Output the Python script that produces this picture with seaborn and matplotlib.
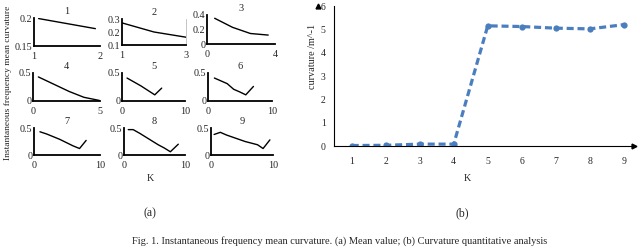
import matplotlib
matplotlib.use("Agg")
import matplotlib.pyplot as plt
import seaborn as sns
import pandas as pd

# (a) mean curvature of each mode, for K = 1..9 decompositions
sub_titles = ["1", "2", "3", "4", "5", "6", "7", "8", "9"]
sub_x = [
    [1.07, 1.93],
    [1.0, 2.0, 3.0],
    [0.45, 1.5, 2.55, 3.6],
    [0.4, 1.55, 2.7, 3.8, 4.95],
    [0.8, 1.9, 3.0, 4.1, 5.2, 6.3],
    [1.0, 2.0, 3.0, 4.0, 5.0, 5.9, 7.1],
    [0.9, 1.9, 2.9, 3.9, 4.9, 5.9, 6.9, 7.9],
    [0.7, 1.5, 2.6, 3.6, 4.6, 5.6, 6.6, 7.6, 8.9],
    [0.5, 1.5, 2.5, 3.5, 4.5, 5.5, 6.5, 7.5, 8.4, 9.5],
]
sub_y = [
    [0.199, 0.181],
    [0.27, 0.20, 0.16],
    [0.355, 0.23, 0.145, 0.123],
    [0.43, 0.30, 0.17, 0.066, 0.01],
    [0.41, 0.34, 0.27, 0.19, 0.11, 0.23],
    [0.41, 0.36, 0.31, 0.21, 0.16, 0.11, 0.26],
    [0.43, 0.39, 0.34, 0.29, 0.23, 0.17, 0.12, 0.27],
    [0.47, 0.47, 0.40, 0.33, 0.26, 0.19, 0.13, 0.06, 0.20],
    [0.38, 0.42, 0.37, 0.33, 0.29, 0.25, 0.22, 0.19, 0.12, 0.28],
]
sub_xlim = [(1, 2), (1, 3), (0, 4), (0, 5), (0, 10), (0, 10), (0, 10), (0, 10), (0, 10)]
sub_ylim = [(0.15, 0.2), (0.1, 0.3), (0, 0.4), (0, 0.5), (0, 0.5), (0, 0.5), (0, 0.5), (0, 0.5), (0, 0.5)]
sub_yticks = [[0.15, 0.2], [0.1, 0.2, 0.3], [0, 0.2, 0.4], [0, 0.5], [0, 0.5], [0, 0.5],
              [0, 0.5], [0, 0.5], [0, 0.5]]
sub_yticklabels = [["0.15", "0.2"], ["0.1", "0.2", "0.3"], ["0", "0.2", "0.4"]] + [["0", "0.5"]] * 6

# (b) curvature statistics
k_values = [1, 2, 3, 4, 5, 6, 7, 8, 9]
curvature = [0.02, 0.03, 0.08, 0.08, 5.15, 5.12, 5.05, 5.02, 5.2]

sns.set_style("white")
plt.rcParams['font.family'] = ['Liberation Serif', 'DejaVu Serif']

W, H = 640, 247
fig = plt.figure(figsize=(6.4, 2.47), dpi=100)


def box(l, t, r, b):
    return [l / W, 1 - b / H, (r - l) / W, (b - t) / H]


# pixel boxes (left, top, right, bottom) of the small panels
boxes = [
    (34, 18, 100, 46), (122, 19, 186, 45), (207, 15, 275, 44),
    (33, 73, 100, 101), (122, 73, 185, 101), (208, 73, 272, 101),
    (34, 128, 100, 155), (124, 128, 185, 155), (211, 128, 273, 155),
]

for i in range(9):
    ax = fig.add_axes(box(*boxes[i]))
    df = pd.DataFrame({"x": sub_x[i], "y": sub_y[i]})
    sns.lineplot(data=df, x="x", y="y", ax=ax, color="black", linewidth=1.0)
    ax.set_xlim(*sub_xlim[i])
    ax.set_ylim(*sub_ylim[i])
    ax.set_xticks(list(sub_xlim[i]))
    ax.set_xticklabels([str(v) for v in sub_xlim[i]])
    ax.set_yticks(sub_yticks[i])
    ax.set_yticklabels(sub_yticklabels[i])
    ax.set_xlabel("")
    ax.set_ylabel("")
    ax.set_title(sub_titles[i], fontsize=7.5, pad=3)
    for s in ["top", "right"]:
        ax.spines[s].set_visible(False)
    for s in ["left", "bottom"]:
        ax.spines[s].set_linewidth(1.3)
        ax.spines[s].set_color("black")
    if i == 1:
        ax.spines["right"].set_visible(True)
        ax.spines["right"].set_color("#bbbbbb")
        ax.spines["right"].set_linewidth(0.6)
    ax.tick_params(length=0, labelsize=7.3)
    ax.tick_params(axis="x", pad=4)
    ax.tick_params(axis="y", pad=1)

fig.text(8 / W, 1 - 83 / H, "Instantaneous frequency mean curvature", rotation=90,
         ha="center", va="center", fontsize=6.8)
fig.text(150 / W, 1 - 178 / H, "K", ha="center", va="center", fontsize=7.3)
fig.text(150 / W, 1 - 213 / H, "(a)", ha="center", va="center", fontsize=8.5)

# (b)
axb = fig.add_axes(box(334, 6, 634, 146))
dfb = pd.DataFrame({"K": k_values, "curvature": curvature})
sns.lineplot(data=dfb, x="K", y="curvature", ax=axb, color="#4a7ebf", linewidth=2.3,
             linestyle=(0, (2.2, 1.2)), marker="o", markersize=4.5, markeredgewidth=0)
axb.set_xlim(0.48, 9.3)
axb.set_ylim(0, 6)
axb.set_xticks(k_values)
axb.set_yticks(range(0, 7))
axb.tick_params(length=0, labelsize=7)
axb.tick_params(axis="x", pad=8)
axb.tick_params(axis="y", pad=6)
for s in ["top", "right"]:
    axb.spines[s].set_visible(False)
for s in ["left", "bottom"]:
    axb.spines[s].set_linewidth(0.8)
    axb.spines[s].set_color("black")
axb.plot(1, 0, ">k", transform=axb.get_yaxis_transform(), clip_on=False, markersize=3.5)
axb.plot(0, 1, "^k", transform=axb.get_xaxis_transform(), clip_on=False, markersize=3.5)
axb.set_xlabel("")
axb.set_ylabel("curvature /m^-1", fontsize=7.3)
axb.yaxis.set_label_coords(-0.058, 0.64)
fig.text(467 / W, 1 - 178 / H, "K", ha="center", va="center", fontsize=7.3)
fig.text(462 / W, 1 - 213 / H, "(b)", ha="center", va="center", fontsize=8.5)

fig.text(340 / W, 1 - 246 / H,
         "Fig. 1. Instantaneous frequency mean curvature. (a) Mean value; (b) Curvature quantitative analysis",
         ha="center", va="bottom", fontsize=7.5)

fig.savefig("out.png", dpi=100)
